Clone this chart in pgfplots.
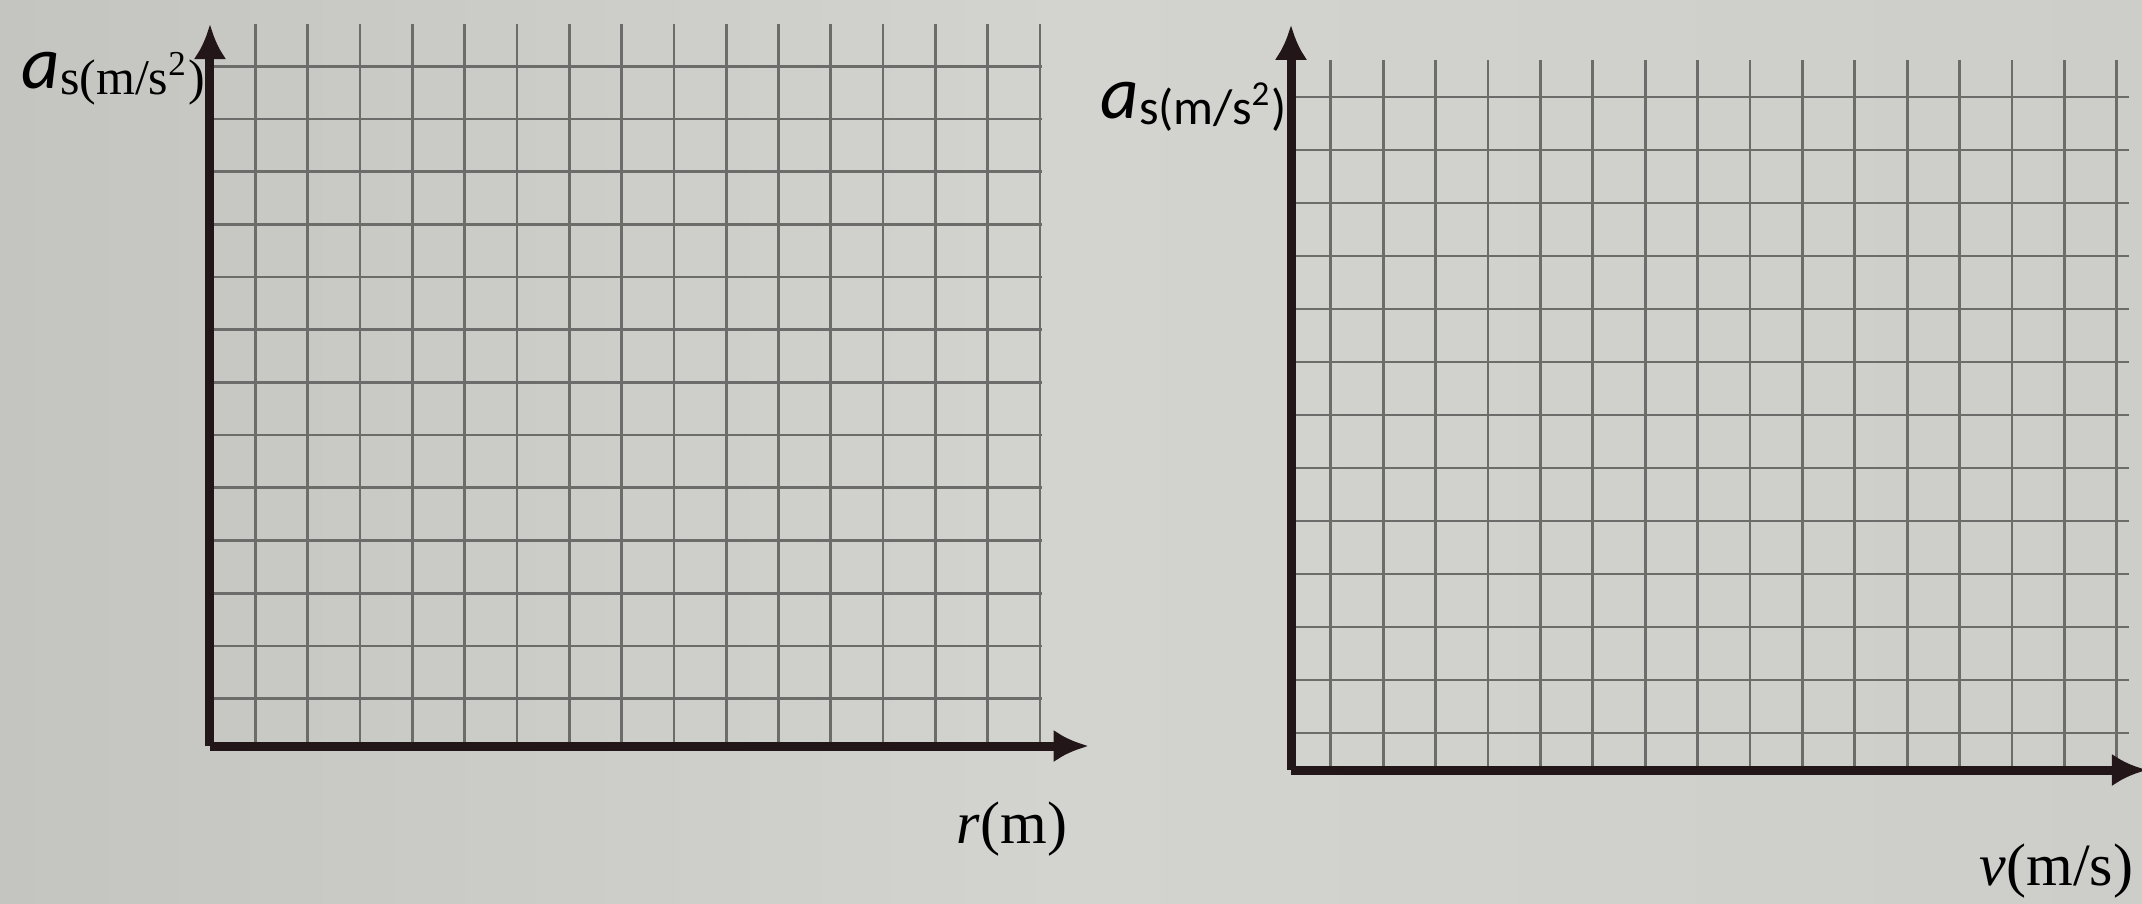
\documentclass[border=0pt]{standalone}
\usepackage{fontspec}
\setmainfont{Liberation Serif}
\newfontfamily\carlito{Carlito}
\usepackage{pgfplots}
\pgfplotsset{compat=1.18}
\usetikzlibrary{arrows.meta}

\definecolor{paperL}{RGB}{196,197,192}
\definecolor{paperM}{RGB}{211,212,208}
\definecolor{paperR}{RGB}{205,206,202}
\definecolor{gridcol}{RGB}{108,108,106}
\definecolor{axiscol}{RGB}{35,22,24}

% empty grid sheet, only axes and grid
\pgfplotsset{
  blankgrid/.style={
    axis lines=left,
    anchor=south west,
    xmin=0, ymin=0,
    xticklabels={}, yticklabels={},
    major tick length=0pt,
    grid=major,
    grid style={line width=0.55pt, draw=gridcol},
    axis line style={line width=1.8pt, draw=axiscol, -{Latex[length=7pt,width=6.5pt]}},
  }
}

\begin{document}
\begin{tikzpicture}
\useasboundingbox (0,0) rectangle (428.4pt,180.6pt);
\shade[left color=paperL, right color=paperR, middle color=paperM] (0,0) rectangle (428.4pt,180.6pt);
\clip (0,0) rectangle (428.4pt,180.6pt);

% left sheet: a_s against r
\begin{axis}[blankgrid,
    at={(42pt,31.4pt)},
    x=10.46pt, y=10.54pt,
    xmax=15.9, ymax=13.7,
    xtick={0.87,1.87,...,15.87},
    ytick={0.9,1.9,...,12.9},
    x axis line style={shorten >=-9.4pt}]
\end{axis}

% right sheet: a_s against v
\begin{axis}[blankgrid,
    at={(258.2pt,26.6pt)},
    x=10.48pt, y=10.6pt,
    xmax=16.0, ymax=13.4,
    xtick={0.76,1.76,...,15.76},
    ytick={0.7,1.7,...,12.7},
    x axis line style={shorten >=-3.5pt},
    y axis line style={shorten >=-7pt}]
\end{axis}

\node[anchor=base east, inner sep=0pt] at (41.2pt,163pt)
  {{\carlito\fontsize{15}{15}\selectfont\itshape a}\raisebox{-1.2pt}{\fontsize{10}{10}\selectfont s(m/s\textsuperscript{2})}};
\node[anchor=base east, inner sep=0pt] at (257.6pt,157pt)
  {{\carlito\fontsize{15}{15}\selectfont\itshape a}\raisebox{-1.2pt}{\carlito\fontsize{10}{10}\selectfont s(m/s\textsuperscript{2})}};
\node[anchor=base east, inner sep=0pt] at (213.6pt,12pt)
  {\fontsize{12}{12}\selectfont\textit{r}(m)};
\node[anchor=base east, inner sep=0pt] at (426.8pt,3.6pt)
  {\fontsize{12}{12}\selectfont\textit{v}(m/s)};
\end{tikzpicture}
\end{document}
